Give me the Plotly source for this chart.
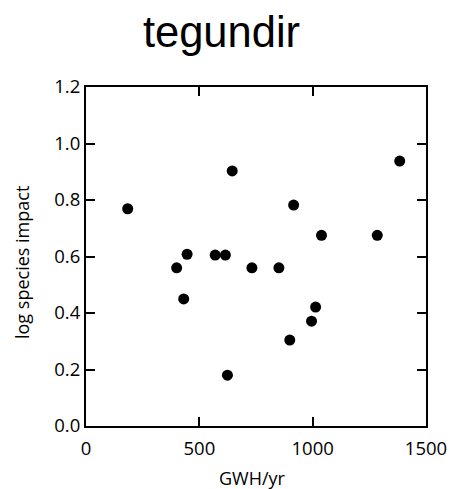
import plotly.graph_objects as go

gwh = [184, 400, 446, 431, 570, 615, 645, 624, 732, 851, 916, 899, 995, 1013, 1039, 1285, 1384]
impact = [0.769, 0.560, 0.608, 0.450, 0.605, 0.605, 0.903, 0.180, 0.560, 0.560, 0.782, 0.304, 0.371, 0.421, 0.675, 0.675, 0.938]

x_ticks = [0, 500, 1000, 1500]
y_ticks = [0.0, 0.2, 0.4, 0.6, 0.8, 1.0, 1.2]

W, H = 450, 489

fig = go.Figure(go.Scatter(
    x=gwh, y=impact, mode="markers",
    marker=dict(size=11, color="black", line=dict(width=0)),
    hoverinfo="x+y",
))

tickfont = dict(family="Open Sans, Liberation Sans, sans-serif", size=18.5, color="black")
titlefont = dict(family="Open Sans, Liberation Sans, sans-serif", size=18, color="black")

axis_common = dict(
    showline=True, linecolor="black", linewidth=2, mirror="ticks",
    ticks="inside", ticklen=9, tickwidth=2, tickcolor="black",
    showgrid=False, zeroline=False, tickfont=tickfont, automargin=False,
)

fig.update_layout(
    width=W, height=H,
    margin=dict(l=86, r=24, t=87, b=63, autoexpand=False),
    paper_bgcolor="white", plot_bgcolor="white",
    showlegend=False,
    title=dict(
        text="tegundir", x=221.5 / W, xref="container", xanchor="center",
        y=1 - 32 / H, yref="container", yanchor="middle",
        font=dict(family="Liberation Sans, Arial, sans-serif", size=43.5, color="black"),
    ),
    xaxis=dict(
        range=[0, 1500], tickvals=x_ticks, ticktext=[str(v) for v in x_ticks],
        ticklabelstandoff=5,
        **axis_common,
    ),
    yaxis=dict(
        range=[0, 1.2], tickvals=y_ticks, ticktext=[f"{v:.1f}" for v in y_ticks],
        ticklabelstandoff=0,
        **axis_common,
    ),
    annotations=[
        dict(text="GWH/yr", xref="paper", yref="paper", x=(252 - 86) / 340, y=(426 - 477.5) / 339,
             xanchor="center", yanchor="middle", showarrow=False, font=titlefont),
        dict(text="log species impact", xref="paper", yref="paper", x=(22 - 86) / 340, y=(426 - 263) / 339,
             xanchor="center", yanchor="middle", textangle=-90, showarrow=False, font=titlefont),
    ],
)

fig.write_html(
    "out.html",
    config={"displayModeBar": False},
    post_script="document.body.style.margin='0';document.body.style.overflow='hidden';",
)
